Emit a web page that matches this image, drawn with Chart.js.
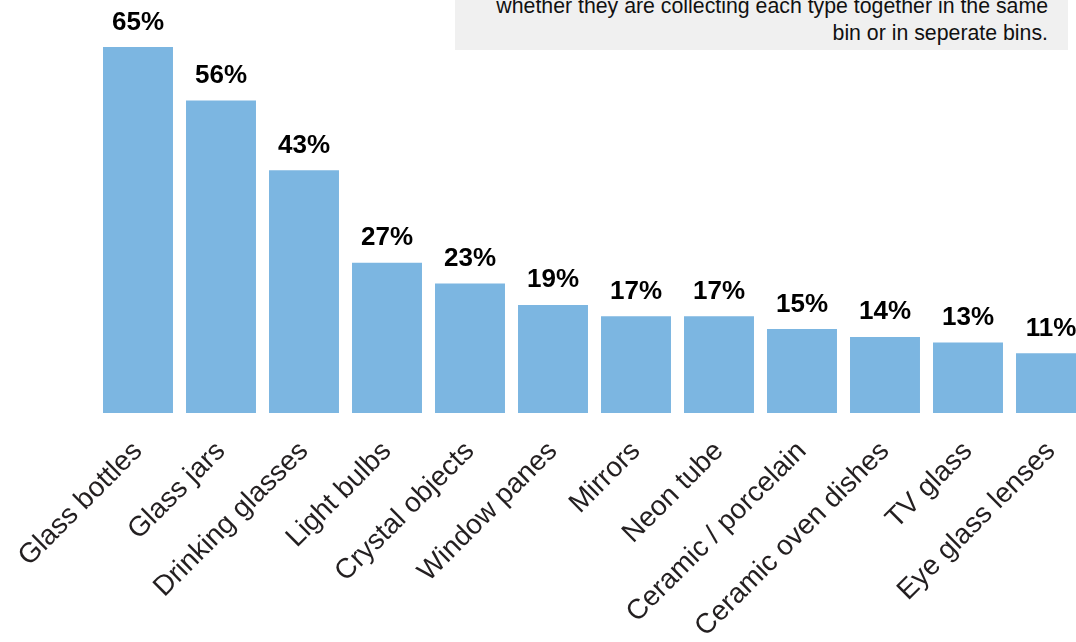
<!DOCTYPE html>
<html>
<head>
<meta charset="utf-8">
<script src="https://cdn.jsdelivr.net/npm/chart.js@4.4.1/dist/chart.umd.min.js"></script>
<style>
  html, body { margin: 0; padding: 0; background: #ffffff; overflow: hidden; width: 1076px; height: 642px; }
  #wrap { position: absolute; left: 0; top: 0; width: 1100px; height: 642px; }
  #note {
    position: absolute; left: 455px; top: -7px; width: 593px; height: 57px;
    padding-right: 20px; background: #f0f0f0; text-align: right;
    font-family: "Liberation Sans", Arial, sans-serif; font-size: 21.3px; line-height: 27px; color: #111;
    box-sizing: content-box; white-space: nowrap;
  }
</style>
</head>
<body>
<div id="wrap"><canvas id="c" width="1100" height="642"></canvas></div>
<div id="note">whether they are collecting each type together in the same<br>bin or in seperate bins.</div>
<script>
const categories = ["Glass bottles", "Glass jars", "Drinking glasses", "Light bulbs", "Crystal objects",
  "Window panes", "Mirrors", "Neon tube", "Ceramic / porcelain", "Ceramic oven dishes", "TV glass", "Eye glass lenses"];
const percentages = [65, 55.5, 43.1, 26.7, 23, 19.2, 17.2, 17.2, 14.9, 13.5, 12.5, 10.6];
const valueTexts = ["65%", "56%", "43%", "27%", "23%", "19%", "17%", "17%", "15%", "14%", "13%", "11%"];

const valueLabels = {
  id: 'valueLabels',
  afterDatasetsDraw(chart) {
    const ctx = chart.ctx;
    const meta = chart.getDatasetMeta(0);
    ctx.save();
    ctx.font = 'bold 26px "Liberation Sans", Arial, sans-serif';
    ctx.fillStyle = '#000000';
    ctx.textAlign = 'center';
    ctx.textBaseline = 'alphabetic';
    meta.data.forEach((bar, i) => {
      ctx.fillText(valueTexts[i], bar.x, bar.y - 17.5);
    });
    ctx.restore();
  }
};

new Chart(document.getElementById('c'), {
  type: 'bar',
  data: {
    labels: categories,
    datasets: [{
      data: percentages,
      backgroundColor: '#7cb6e1',
      borderWidth: 0,
      barPercentage: 0.843,
      categoryPercentage: 1.0
    }]
  },
  options: {
    responsive: false,
    animation: false,
    events: [],
    layout: { padding: { left: 96.5, right: 7.5, top: 2, bottom: 0 } },
    plugins: { legend: { display: false }, tooltip: { enabled: false }, title: { display: false } },
    scales: {
      x: {
        grid: { display: false, drawTicks: false },
        border: { display: false },
        ticks: {
          autoSkip: false,
          minRotation: 45,
          maxRotation: 45,
          padding: 22,
          color: '#231f20',
          font: { family: '"Liberation Sans", Arial, sans-serif', size: 28 }
        },
        afterFit(scale) { scale.height = 229; scale.paddingLeft = 0; scale.paddingRight = 0; }
      },
      y: {
        display: false,
        min: 0,
        max: 73
      }
    }
  },
  plugins: [valueLabels]
});
</script>
</body>
</html>
